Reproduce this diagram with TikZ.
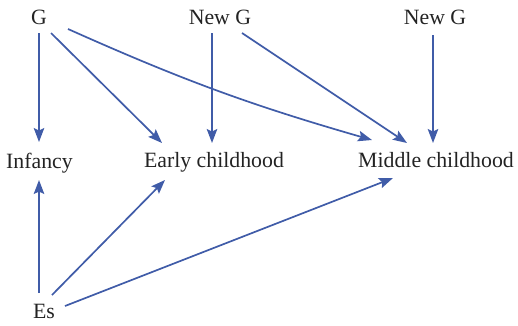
\documentclass[tikz,border=0pt]{standalone}
\usepackage{fontspec}
\setmainfont{Liberation Serif}
\usetikzlibrary{arrows.meta}
\definecolor{arrowblue}{RGB}{64,92,168}
\definecolor{labelgray}{RGB}{35,35,35}
\tikzset{
  lbl/.style={anchor=base, inner sep=0pt, text=labelgray,
    font=\fontsize{21.8}{26}\selectfont},
  link/.style={draw=arrowblue, line width=1.7pt,
    -{Stealth[length=14pt, width=10.5pt, inset=2.5pt]}}
}
\begin{document}
\begin{tikzpicture}[x=1pt, y=-1pt]
\useasboundingbox (0,0) rectangle (518,325);
% generations (top row)
\node[lbl] (g)   at (39,24)  {G};
\node[lbl] (ng1) at (220,24) {New G};
\node[lbl] (ng2) at (435,24) {New G};
% developmental periods (middle row)
\node[lbl] (inf)   at (39.5,168) {Infancy};
\node[lbl] (early) at (214,167)  {Early childhood};
\node[lbl] (mid)   at (436,167)  {Middle childhood};
% environment (bottom)
\node[lbl] (es) at (44,318) {Es};
% G influences
\draw[link] ([shift={(0,9)}]g.base) -- ([shift={(-0.5,-26)}]inf.base);
\draw[link] ([shift={(12,9)}]g.base) -- ([shift={(-52,-24)}]early.base);
\draw[link] ([shift={(29,5)}]g.base) to[bend right=4] ([shift={(-64,-27)}]mid.base);
% New G influences
\draw[link] ([shift={(-8,9)}]ng1.base) -- ([shift={(-2,-24)}]early.base);
\draw[link] ([shift={(22,9)}]ng1.base) -- ([shift={(-29,-24)}]mid.base);
\draw[link] ([shift={(-2,11)}]ng2.base) -- ([shift={(-3,-24)}]mid.base);
% Es influences
\draw[link] ([shift={(-5,-25)}]es.base) -- ([shift={(-0.5,12)}]inf.base);
\draw[link] ([shift={(8,-23)}]es.base) -- ([shift={(-49,13)}]early.base);
\draw[link] ([shift={(21,-12)}]es.base) -- ([shift={(-43,11)}]mid.base);
\end{tikzpicture}
\end{document}
